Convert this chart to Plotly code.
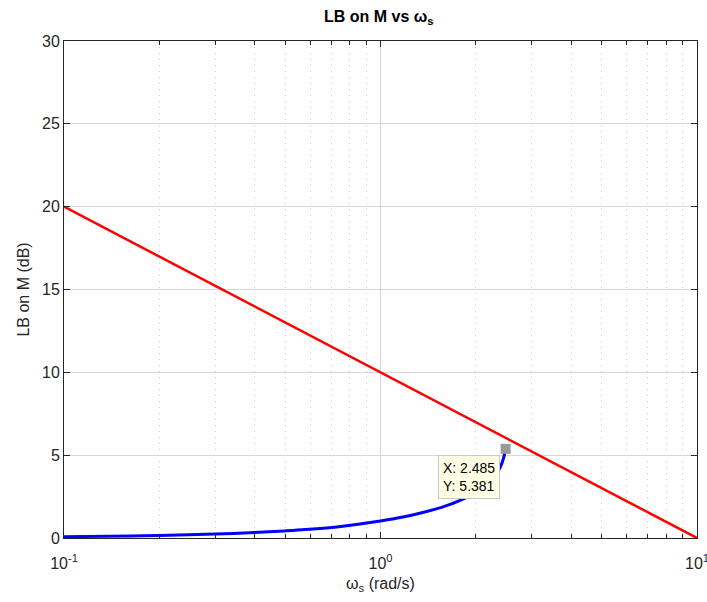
import plotly.graph_objects as go

# Data
red_w = [0.1, 1.0, 10.0]
red_db = [20.0, 10.0, 0.0]

blue_w = [0.1, 0.162, 0.2, 0.3, 0.4, 0.5, 0.58, 0.75, 1.0, 1.2, 1.4, 1.6, 1.8,
          1.97, 2.1, 2.23, 2.33, 2.4, 2.45, 2.485]
blue_db = [0.08, 0.12, 0.15, 0.24, 0.33, 0.43, 0.51, 0.7, 1.03, 1.3, 1.6, 1.92, 2.3,
           2.68, 3.0, 3.45, 3.9, 4.35, 4.85, 5.381]

tip_x = 2.485
tip_y = 5.381

x_major = [0.1, 1, 10]
x_major_text = ["10<sup>-1</sup>", "10<sup>0</sup>", "10<sup>1</sup>"]
x_minor = [0.2, 0.3, 0.4, 0.5, 0.6, 0.7, 0.8, 0.9, 2, 3, 4, 5, 6, 7, 8, 9]
y_ticks = [0, 5, 10, 15, 20, 25, 30]

axis_col = "#262626"
grid_col = "#d6d6d6"
font_fam = "Liberation Sans, Arial, sans-serif"

fig = go.Figure()
fig.add_trace(go.Scatter(x=red_w, y=red_db, mode="lines", cliponaxis=False,
                         line=dict(color="#ff0000", width=2.5), showlegend=False))
fig.add_trace(go.Scatter(x=blue_w, y=blue_db, mode="lines", line_shape="spline",
                         cliponaxis=False,
                         line=dict(color="#0000ff", width=3, smoothing=0.8),
                         showlegend=False))
fig.add_trace(go.Scatter(x=[tip_x], y=[tip_y], mode="markers",
                         marker=dict(symbol="square", size=10, color="#999999",
                                     line=dict(width=0)),
                         showlegend=False))

fig.add_annotation(x=0.39533, y=tip_y, xref="x", yref="y",
                   text=f"X: {tip_x}<br>Y: {tip_y}", showarrow=False,
                   xanchor="right", yanchor="top", xshift=-6, yshift=-6,
                   align="left", bgcolor="#ffffe6", bordercolor="#c8c8c8",
                   borderwidth=1, borderpad=4,
                   font=dict(family=font_fam, size=14, color="#000000"))

fig.update_layout(
    width=707, height=602,
    margin=dict(l=64, r=10, t=41, b=64, autoexpand=False),
    paper_bgcolor="white", plot_bgcolor="white",
    font=dict(family=font_fam, size=14, color=axis_col),
    title=dict(text="<b>LB on M vs ω<sub>s</sub></b>", x=0.5357, xanchor="center",
               y=0.982, yanchor="top", automargin=False,
               font=dict(family=font_fam, size=16, color="#000000")),
)

fig.update_xaxes(
    type="log", range=[-1, 1], automargin=False,
    tickvals=x_major, ticktext=x_major_text, ticklabeloverflow="allow",
    ticks="inside", ticklen=6, tickcolor=axis_col, ticklabelstandoff=11,
    showgrid=True, gridcolor=grid_col, gridwidth=1,
    showline=True, linecolor=axis_col, linewidth=1, mirror="allticks",
    zeroline=False,
    minor=dict(tickvals=x_minor, ticks="inside", ticklen=4, tickcolor=axis_col,
               showgrid=True, gridcolor="#cccccc", griddash="1px,5px", gridwidth=1),
    title=dict(text="ω<sub>s</sub> (rad/s)", standoff=6,
               font=dict(family=font_fam, size=16, color=axis_col)),
    tickfont=dict(family=font_fam, size=16, color=axis_col),
)
fig.update_yaxes(
    range=[0, 30], tickvals=y_ticks, automargin=False,
    ticks="inside", ticklen=6, tickcolor=axis_col,
    showgrid=True, gridcolor=grid_col, gridwidth=1,
    showline=True, linecolor=axis_col, linewidth=1, mirror="allticks",
    zeroline=False,
    title=dict(text="LB on M (dB)", standoff=8,
               font=dict(family=font_fam, size=16, color=axis_col)),
    tickfont=dict(family=font_fam, size=16, color=axis_col),
)

fig.write_html("out.html", config={"displayModeBar": False},
               post_script="document.body.style.margin='0';"
                           "document.body.style.overflow='hidden';")
